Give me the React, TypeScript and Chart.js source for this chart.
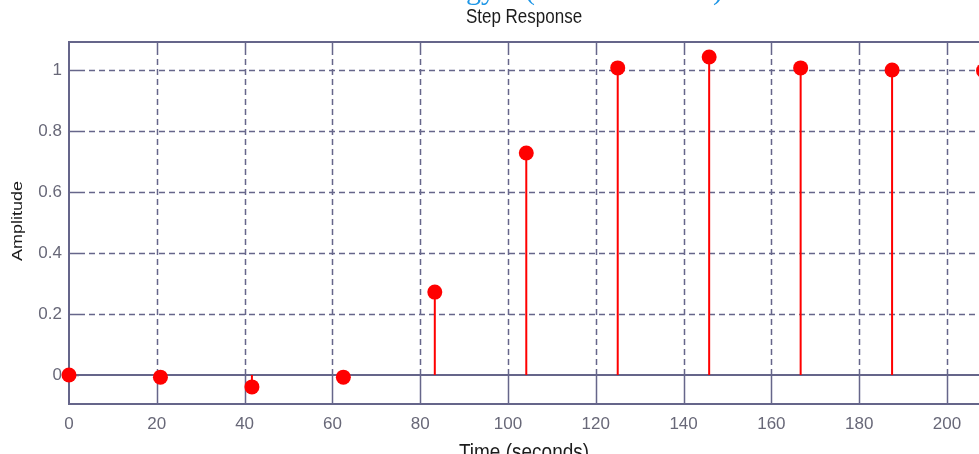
import { useEffect, useRef } from 'react';
import { Chart, registerables } from 'chart.js';

Chart.register(...registerables);

// Sampled step response (sample time ≈ 20.83 s)
const times = [0, 20.83, 41.67, 62.5, 83.33, 104.17, 125, 145.83, 166.67, 187.5, 208.33];
const amplitudes = [0, -0.007, -0.039, -0.007, 0.272, 0.728, 1.007, 1.043, 1.007, 1.0, 0.998];

const xTicks = [0, 20, 40, 60, 80, 100, 120, 140, 160, 180, 200];
const yTicks = [0, 0.2, 0.4, 0.6, 0.8, 1];
const yTickLabels = ['0', '0.2', '0.4', '0.6', '0.8', '1'];
const xRange = [0, 207.3];
const yRange = [-0.095, 1.092];

const titleText = 'Step Response';
const xTitle = 'Time (seconds)';
const yTitle = 'Amplitude';
const headerFragments = ['gy', '(', ')'];

const AXIS_COLOR = '#65658a';
const GRID_COLOR = '#66668a';
const STEM_COLOR = '#ff0000';
const SANS = '"Liberation Sans", Arial, sans-serif';

// Text drawn with a slightly taller-than-wide aspect
function drawText(ctx: CanvasRenderingContext2D, text: string, x: number, y: number, font: string, sx: number, sy: number, rot = 0) {
  ctx.save();
  ctx.translate(x, y);
  if (rot) ctx.rotate(rot);
  ctx.scale(sx, sy);
  ctx.font = font;
  ctx.fillText(text, 0, 0);
  ctx.restore();
}

const axesDecor = {
  id: 'axesDecor',
  beforeDatasetsDraw(chart: any) {
    const { ctx, chartArea: a, scales } = chart;
    const xs = scales.x;
    const ys = scales.y;
    const y0 = ys.getPixelForValue(0);
    ctx.save();
    ctx.lineWidth = 1.5;
    ctx.strokeStyle = GRID_COLOR;
    // dashed grid
    ctx.setLineDash([6, 4]);
    xTicks.forEach((v) => {
      if (v === xRange[0]) return;
      const px = Math.round(xs.getPixelForValue(v)) + 0.5;
      ctx.beginPath();
      ctx.moveTo(px, a.top + 7);
      ctx.lineTo(px, y0);
      ctx.stroke();
    });
    yTicks.forEach((v) => {
      if (v === 0) return;
      const py = Math.round(ys.getPixelForValue(v)) + 0.5;
      ctx.beginPath();
      ctx.moveTo(a.left + 10, py);
      ctx.lineTo(a.right, py);
      ctx.stroke();
    });
    // solid tick marks pointing inward
    ctx.setLineDash([]);
    xTicks.forEach((v) => {
      if (v === xRange[0]) return;
      const px = Math.round(xs.getPixelForValue(v)) + 0.5;
      ctx.beginPath();
      ctx.moveTo(px, a.bottom);
      ctx.lineTo(px, y0);
      ctx.moveTo(px, a.top);
      ctx.lineTo(px, a.top + 7);
      ctx.stroke();
    });
    yTicks.forEach((v) => {
      const py = Math.round(ys.getPixelForValue(v)) + 0.5;
      ctx.beginPath();
      ctx.moveTo(a.left, py);
      ctx.lineTo(a.left + 10, py);
      ctx.stroke();
    });
    // axes box (left, top, bottom)
    ctx.lineWidth = 2;
    ctx.strokeStyle = AXIS_COLOR;
    ctx.beginPath();
    ctx.moveTo(a.right, a.top);
    ctx.lineTo(a.left, a.top);
    ctx.lineTo(a.left, a.bottom);
    ctx.lineTo(a.right, a.bottom);
    ctx.stroke();
    ctx.restore();
  },
  afterDraw(chart: any) {
    const { ctx, chartArea: a } = chart;
    const cx = (a.left + a.right) / 2;
    ctx.save();
    ctx.fillStyle = '#1c1c1c';
    ctx.textAlign = 'center';
    ctx.textBaseline = 'alphabetic';
    drawText(ctx, titleText, cx, 23, `17px ${SANS}`, 1, 1.2);
    drawText(ctx, xTitle, cx, 459, `19px ${SANS}`, 1, 1.2);
    drawText(ctx, yTitle, 22, 221, `15px ${SANS}`, 1.2, 1, -Math.PI / 2);
    ctx.restore();

    // page heading above the figure, mostly cut off
    ctx.save();
    ctx.fillStyle = '#1e96e6';
    ctx.textAlign = 'left';
    ctx.textBaseline = 'alphabetic';
    const serif = '30px "Liberation Serif", "Times New Roman", serif';
    drawText(ctx, headerFragments[0], 466, -1, serif, 1, 1);
    drawText(ctx, headerFragments[1], 525, -1, serif, 1, 1);
    drawText(ctx, headerFragments[2], 713, -1, serif, 1, 1);
    ctx.restore();
  },
};

export default function App() {
  const canvasRef = useRef<HTMLCanvasElement | null>(null);

  useEffect(() => {
    document.body.style.margin = '0';
    const canvas = canvasRef.current;
    if (!canvas) return;

    const markers = times.map((t, i) => ({ x: t, y: amplitudes[i] }));
    const stems: any[] = [];
    times.forEach((t, i) => {
      stems.push({ x: t, y: 0 });
      stems.push({ x: t, y: amplitudes[i] });
      stems.push({ x: t, y: null });
    });
    const baseline = [
      { x: xRange[0], y: 0 },
      { x: xRange[1], y: 0 },
    ];

    const chart = new Chart(canvas, {
      type: 'scatter',
      data: {
        datasets: [
          {
            data: markers,
            order: 0,
            pointRadius: 7.5,
            pointHoverRadius: 7.5,
            pointBackgroundColor: STEM_COLOR,
            pointBorderColor: STEM_COLOR,
            pointBorderWidth: 0,
            showLine: false,
            clip: false,
          } as any,
          {
            data: stems,
            order: 1,
            showLine: true,
            spanGaps: false,
            borderColor: STEM_COLOR,
            borderWidth: 2,
            pointRadius: 0,
            pointHoverRadius: 0,
          } as any,
          {
            data: baseline,
            order: 2,
            showLine: true,
            borderColor: AXIS_COLOR,
            borderWidth: 2,
            pointRadius: 0,
            pointHoverRadius: 0,
          } as any,
        ],
      },
      options: {
        animation: false,
        responsive: false,
        devicePixelRatio: 1,
        events: [],
        layout: { autoPadding: false, padding: { top: 42, right: 0, left: 0, bottom: 0 } },
        plugins: {
          legend: { display: false },
          tooltip: { enabled: false },
          title: { display: false },
        },
        scales: {
          x: {
            type: 'linear',
            min: xRange[0],
            max: xRange[1],
            afterBuildTicks: (s: any) => {
              s.ticks = xTicks.map((v) => ({ value: v }));
            },
            afterFit: (s: any) => {
              s.height = 50;
              s.paddingLeft = 0;
              s.paddingRight = 0;
            },
            grid: { display: false, drawTicks: false },
            border: { display: false },
            ticks: {
              padding: 10,
              color: '#686878',
              font: { family: SANS, size: 17 },
              callback: (v: any) => String(v),
            },
          },
          y: {
            type: 'linear',
            min: yRange[0],
            max: yRange[1],
            afterBuildTicks: (s: any) => {
              s.ticks = yTicks.map((v) => ({ value: v }));
            },
            afterFit: (s: any) => {
              s.width = 69;
              s.paddingTop = 0;
              s.paddingBottom = 0;
            },
            grid: { display: false, drawTicks: false },
            border: { display: false },
            ticks: {
              padding: 7,
              color: '#686878',
              font: { family: SANS, size: 17 },
              callback: (v: any) => {
                const i = yTicks.indexOf(Number(v));
                return i >= 0 ? yTickLabels[i] : '';
              },
            },
          },
        },
      },
      plugins: [axesDecor],
    } as any);

    return () => chart.destroy();
  }, []);

  return (
    <div style={{ width: 979, height: 454 }}>
      <canvas ref={canvasRef} width={979} height={454} style={{ display: 'block' }} />
    </div>
  );
}
